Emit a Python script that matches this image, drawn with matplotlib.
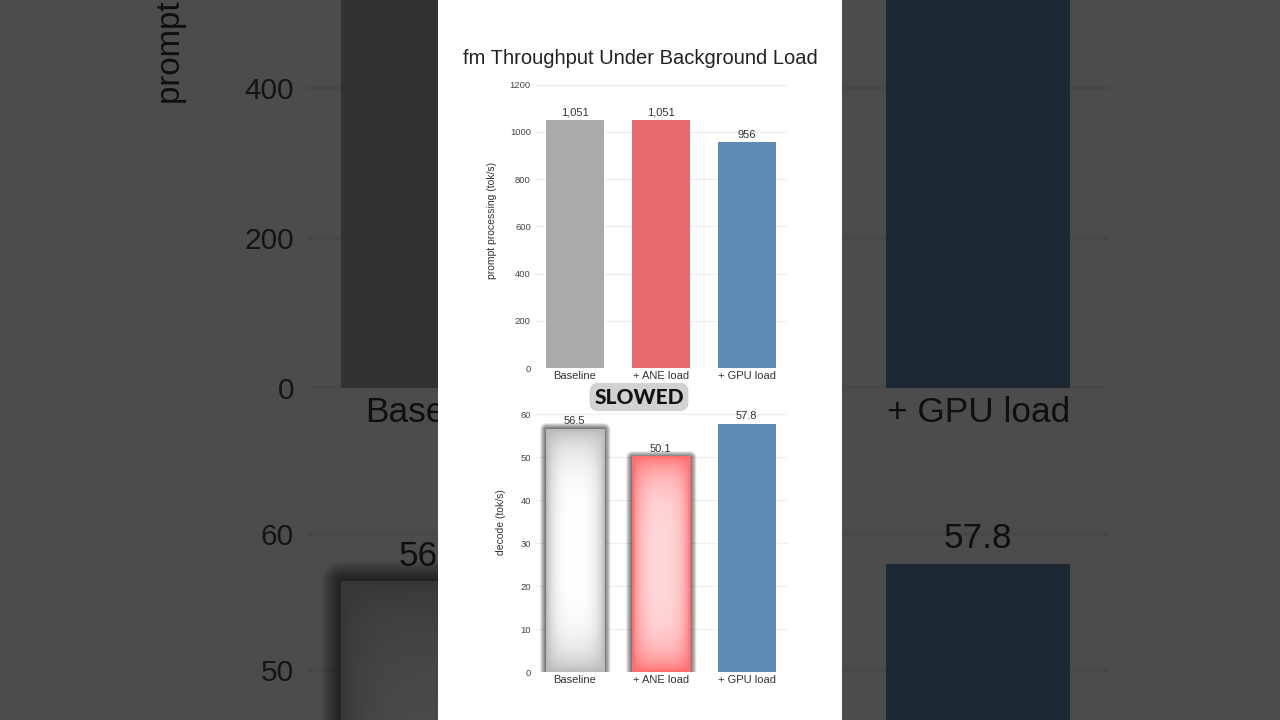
import numpy as np
import matplotlib
matplotlib.use("Agg")
import matplotlib.pyplot as plt
import matplotlib.patheffects as pe
from matplotlib.patches import Rectangle

categories = ["Baseline", "+ ANE load", "+ GPU load"]
prompt_tps = [1051, 1051, 956]
decode_tps = [56.5, 50.1, 57.8]
prompt_labels = ["1,051", "1,051", "956"]
decode_labels = ["56.5", "50.1", "57.8"]
prompt_ticks = [0, 200, 400, 600, 800, 1000, 1200]
decode_ticks = [0, 10, 20, 30, 40, 50, 60]
bar_colors = ["#aaaaaa", "#e76b6d", "#5f8ab4"]
title = "fm Throughput Under Background Load"
badge = "SLOWED"

W, H = 1280, 720
plt.rcParams['font.family'] = ['Liberation Sans', 'DejaVu Sans']
fig = plt.figure(figsize=(12.8, 7.2), dpi=100)
fig.patch.set_facecolor('white')


def place(x, y, s):
    # pixel in the centre panel -> figure fraction, zoomed by s around frame centre
    cx, cy = 640, 359
    return (cx + s * (x - cx)) / W, 1 - (cy + s * (y - cy)) / H


def make_axes(left, top, right, bottom, s, z):
    x0, y0 = place(left, bottom, s)
    x1, y1 = place(right, top, s)
    return fig.add_axes([x0, y0, x1 - x0, y1 - y0], zorder=z)


def glow(ax, bar, edge, centre, s):
    # the bright "highlight" on a bar with a dark soft rim
    x0 = bar.get_x()
    x1 = x0 + bar.get_width()
    h = bar.get_height()
    u = np.linspace(-1, 1, 40)
    v = np.linspace(-1, 1, 160)
    U, V = np.meshgrid(u, v)
    t = (1 - np.abs(U) ** 3) * (1 - np.abs(V) ** 4)
    t = np.clip(t, 0, 1) ** 0.7
    edge = np.array(matplotlib.colors.to_rgb(edge))
    centre = np.array(matplotlib.colors.to_rgb(centre))
    rgb = edge + (centre - edge) * t[..., None]
    ax.imshow(rgb, extent=(x0, x1, 0, h), origin='lower', aspect='auto',
              interpolation='bilinear', zorder=2.5)
    effects = []
    for lw in np.linspace(9, 1.0, 14):
        effects.append(pe.Stroke(linewidth=lw * s, foreground='black',
                                 alpha=0.05, joinstyle='round'))
    effects.append(pe.Normal())
    bar.set_path_effects(effects)


def panel_chart(ax, values, labels, ticks, ylabel, labelx, s):
    x = np.arange(len(categories))
    bars = ax.bar(x, values, width=0.674, color=bar_colors, zorder=2)
    for i in range(len(values)):
        ax.annotate(labels[i], (x[i], values[i]), xytext=(0, 2 * s),
                    textcoords='offset points', ha='center', va='bottom',
                    fontsize=8 * s, color='#333333', zorder=4)
    ax.set_xticks(x)
    ax.set_xticklabels(categories)
    ax.set_yticks(ticks)
    ax.tick_params(axis='y', length=0, labelsize=6.8 * s, colors='#444444', pad=3 * s)
    ax.tick_params(axis='x', length=0, labelsize=8 * s, colors='#333333', pad=2 * s)
    ax.yaxis.grid(True, color='#eeeeee', lw=0.8 * s)
    ax.set_axisbelow(True)
    ax.set_facecolor('none')
    for sp in ax.spines.values():
        sp.set_visible(False)
    ax.set_ylabel(ylabel, fontsize=7.5 * s, color='#333333')
    ax.yaxis.set_label_coords(labelx, 0.5)
    return bars


def draw(s, z):
    ax1 = make_axes(535, 72, 788, 368, s, z + 0.1)
    panel_chart(ax1, prompt_tps, prompt_labels, prompt_ticks,
                "prompt processing (tok/s)", (497 - 535) / 253, s)
    ax1.set_xlim(-0.46, 2.48)
    ax1.set_ylim(0, 1254)

    ax2 = make_axes(535, 372, 788, 672, s, z)
    bars = panel_chart(ax2, decode_tps, decode_labels, decode_ticks,
                       "decode (tok/s)", (506 - 535) / 253, s)
    glow(ax2, bars[0], "#b9b9b9", "#ffffff", s)
    glow(ax2, bars[1], "#ff6a6c", "#ffd6d8", s)
    ax2.set_xlim(-0.46, 2.48)
    ax2.set_ylim(0, 69.8)

    tx, ty = place(640, 59, s)
    fig.text(tx, ty, title, ha='center', va='center', fontsize=14.5 * s,
             color='#222222', zorder=z + 0.5)
    bx, by = place(639, 397, s)
    fig.text(bx, by, badge, ha='center', va='center', fontsize=15 * s,
             fontweight='black', family=['Lato', 'DejaVu Sans'], color='#111111',
             zorder=z + 0.6,
             bbox=dict(boxstyle='round,pad=0.22,rounding_size=0.4',
                       fc='#d2d2d2', ec='none'))


# zoomed, dimmed copy behind the panel
draw(3.17, 0)
fig.add_artist(Rectangle((0, 0), 1, 1, transform=fig.transFigure,
                         fc='black', alpha=0.7, zorder=1))
fig.add_artist(Rectangle((438 / W, 0), 404 / W, 1, transform=fig.transFigure,
                         fc='white', ec='none', zorder=2))
draw(1, 3)

fig.savefig("out.png", dpi=100)
